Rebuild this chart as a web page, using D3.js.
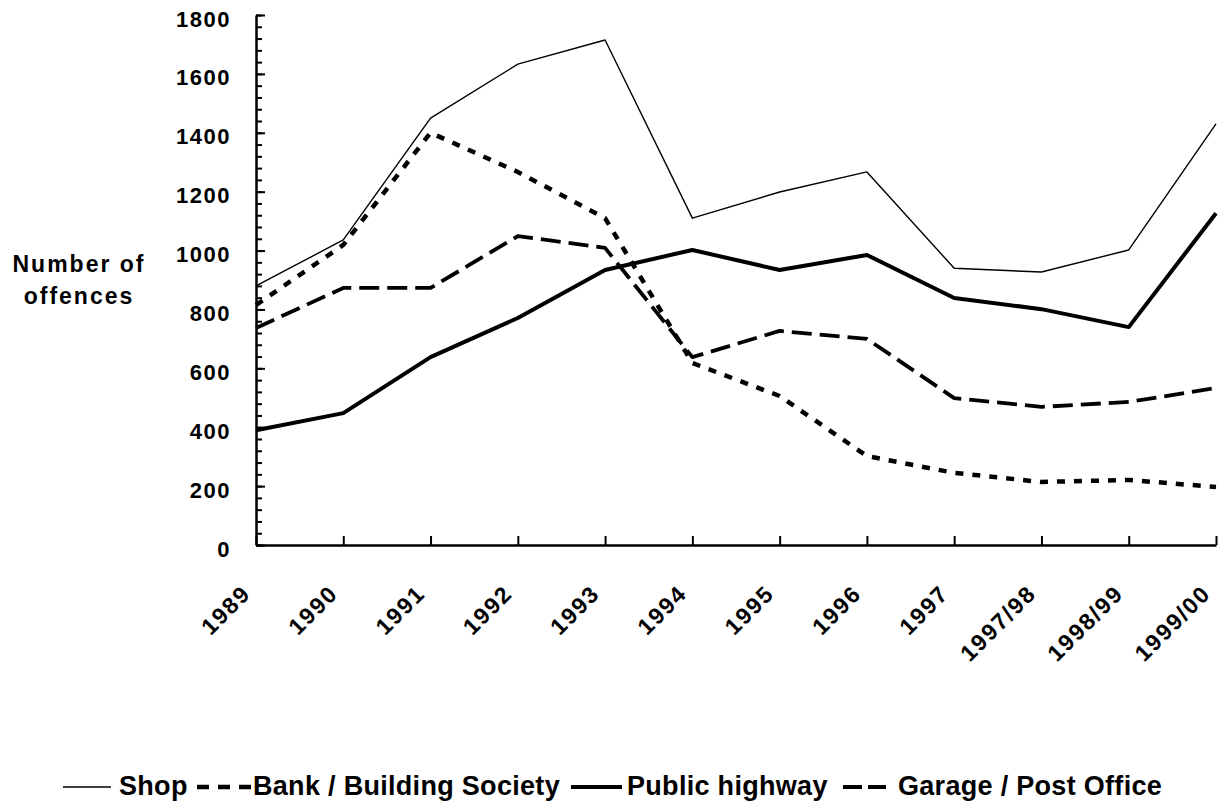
<!DOCTYPE html>
<html>
<head>
<meta charset="utf-8">
<script src="https://cdn.jsdelivr.net/npm/d3@7"></script>
<style>
  body { margin: 0; background: #fff; }
  svg { display: block; font-family: "Liberation Sans", Arial, sans-serif; font-weight: bold; }
</style>
</head>
<body>
<svg id="chart" width="1224" height="807"></svg>
<script>
// data
var years = ["1989", "1990", "1991", "1992", "1993", "1994", "1995", "1996", "1997", "1997/98", "1998/99", "1999/00"];
var shop = [880, 1036, 1450, 1633, 1715, 1110, 1199, 1267, 940, 927, 1002, 1430];
var bank = [815, 1019, 1400, 1267, 1110, 618, 506, 302, 245, 214, 221, 197];
var highway = [390, 448, 638, 771, 934, 1002, 934, 985, 839, 801, 740, 1127];
var garage = [737, 873, 873, 1049, 1009, 638, 727, 700, 499, 469, 486, 533];
var yMajor = [0, 200, 400, 600, 800, 1000, 1200, 1400, 1600, 1800];
var seriesNames = ["Shop", "Bank / Building Society", "Public highway", "Garage / Post Office"];

var series = [
  {name: seriesNames[0], values: shop, width: 1.4, dash: null},
  {name: seriesNames[1], values: bank, width: 4.5, dash: "8,9"},
  {name: seriesNames[2], values: highway, width: 4, dash: null},
  {name: seriesNames[3], values: garage, width: 3.8, dash: "20,8"}
];

var svg = d3.select("#chart");

var x = d3.scalePoint().domain(years).range([256, 1216]);
var y = d3.scaleLinear().domain([0, 1800]).range([545, 15]);

// minor y ticks
svg.append("g")
  .attr("transform", "translate(256,0)")
  .call(d3.axisLeft(y).tickValues(d3.range(0, 1801, 40)).tickSize(-6).tickFormat(""))
  .call(function(g) { g.select(".domain").remove(); })
  .selectAll("line").attr("stroke", "#000").attr("stroke-width", 2);

// major y ticks and labels
var yAxis = svg.append("g")
  .attr("transform", "translate(256,0)")
  .call(d3.axisLeft(y).tickValues(yMajor).tickSize(-9).tickPadding(25).tickSizeOuter(0).tickFormat(d3.format("d")));
yAxis.select(".domain").attr("stroke", "#000").attr("stroke-width", 2.5);
yAxis.selectAll("line").attr("stroke", "#000").attr("stroke-width", 2);
yAxis.selectAll("text")
  .attr("font-size", 22).attr("font-family", "Liberation Sans, Arial, sans-serif")
  .attr("font-weight", "bold").attr("letter-spacing", 1.5)
  .attr("fill", "#000").attr("dy", "0.5em");

// x axis
var xAxis = svg.append("g")
  .attr("transform", "translate(0,545)")
  .call(d3.axisBottom(x).tickSize(-9).tickSizeOuter(0).tickFormat(""));
xAxis.select(".domain").attr("stroke", "#000").attr("stroke-width", 2.5);
xAxis.selectAll("line").attr("stroke", "#000").attr("stroke-width", 2);

svg.append("g").selectAll("text")
  .data(years)
  .enter()
  .append("text")
  .attr("transform", function(d) { return "translate(" + (x(d) - 4) + ",595) rotate(-45)"; })
  .attr("text-anchor", "end")
  .attr("font-size", 23)
  .attr("letter-spacing", 1.8)
  .text(function(d) { return d; });

// axis title
var title = svg.append("text").attr("font-size", 23).attr("letter-spacing", 2).attr("text-anchor", "middle");
title.append("tspan").attr("x", 79).attr("y", 272).text("Number of");
title.append("tspan").attr("x", 79).attr("y", 304).text("offences");

// lines
var line = d3.line()
  .x(function(d, i) { return x(years[i]); })
  .y(function(d) { return y(d); });

svg.append("g").selectAll("path")
  .data(series)
  .enter()
  .append("path")
  .attr("d", function(d) { return line(d.values); })
  .attr("fill", "none")
  .attr("stroke", "#000")
  .attr("stroke-width", function(d) { return d.width; })
  .attr("stroke-dasharray", function(d) { return d.dash; })
  .attr("stroke-linejoin", "round");

// legend
var legendX = [63, 197, 571, 843];
var legendLen = [48, 54, 51, 43];
var legendGap = [8, 2, 5, 12];
var legend = svg.append("g").selectAll("g")
  .data(series)
  .enter()
  .append("g")
  .attr("transform", function(d, i) { return "translate(" + legendX[i] + ",0)"; });
legend.append("line")
  .attr("x1", 0)
  .attr("x2", function(d, i) { return legendLen[i]; })
  .attr("y1", 787).attr("y2", 787)
  .attr("stroke", "#000")
  .attr("stroke-width", function(d) { return d.width; })
  .attr("stroke-dasharray", function(d, i) { return i == 1 ? "12,9" : (i == 3 ? "19,6" : null); });
legend.append("text")
  .attr("x", function(d, i) { return legendLen[i] + legendGap[i]; })
  .attr("y", 795)
  .attr("font-size", 27)
  .attr("letter-spacing", 0.3)
  .text(function(d) { return d.name; });
</script>
</body>
</html>
